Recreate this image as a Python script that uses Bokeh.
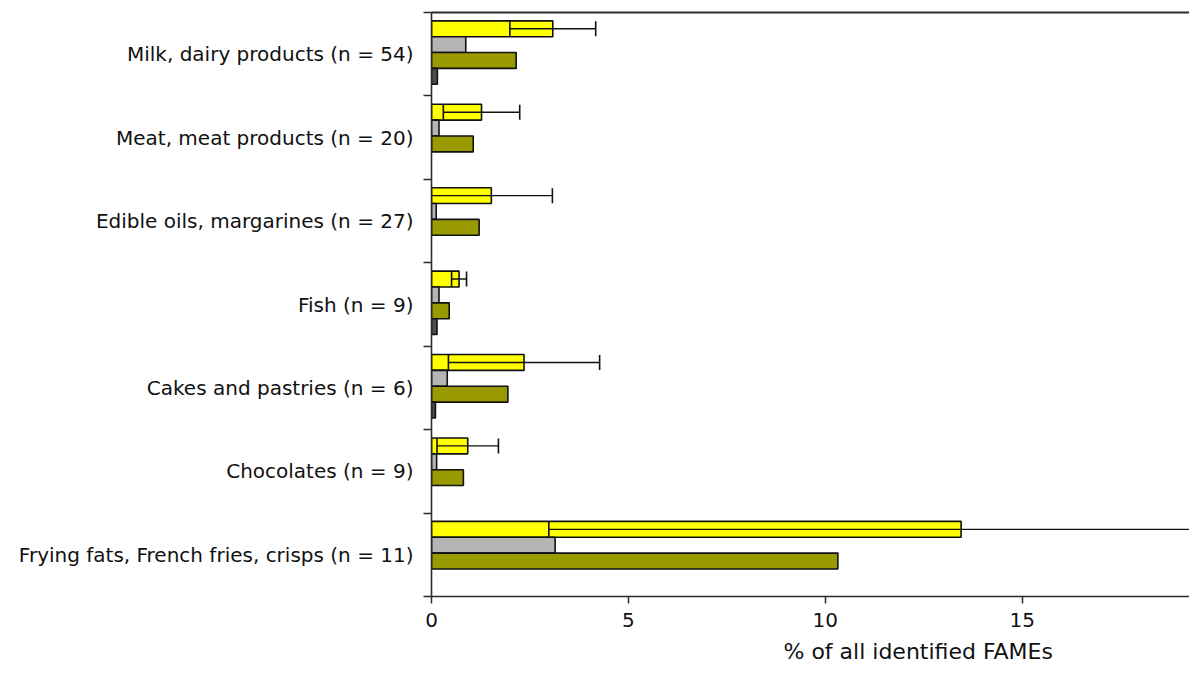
from bokeh.plotting import figure
from bokeh.models import (ColumnDataSource, FixedTicker, LinearAxis, Range1d,
                          TeeHead, Title, Whisker)
from bokeh.embed import file_html
from bokeh.resources import INLINE

# Food groups (top to bottom)
categories = [
    "Milk, dairy products (n = 54)",
    "Meat, meat products (n = 20)",
    "Edible oils, margarines (n = 27)",
    "Fish (n = 9)",
    "Cakes and pastries (n = 6)",
    "Chocolates (n = 9)",
    "Frying fats, French fries, crisps (n = 11)",
]

# % of all identified FAMEs
series1_mean = [3.08, 1.27, 1.52, 0.70, 2.35, 0.92, 13.45]
series1_sd = [1.09, 0.97, 1.55, 0.19, 1.92, 0.78, 10.47]
series2 = [0.87, 0.19, 0.12, 0.19, 0.40, 0.13, 3.14]
series3 = [2.15, 1.06, 1.21, 0.45, 1.94, 0.81, 10.32]
series4 = [0.15, 0.0, 0.0, 0.14, 0.10, 0.0, 0.0]

x_ticks = [0, 5, 10, 15]
x_label = "% of all identified FAMEs"

FONT = "DejaVu Sans"
AXIS_COLOR = "#2b2b2b"
TEXT_COLOR = "#111111"

n = len(categories)
centers = [n - i - 0.5 for i in range(n)]
bar_h = 0.19
group_shift = 0.02
offsets = [group_shift + k * bar_h for k in (1.5, 0.5, -0.5, -1.5)]

p = figure(width=1189, height=674, output_backend="svg", toolbar_location=None,
           x_range=Range1d(0, 19.25), y_range=Range1d(0, n),
           min_border_left=431, min_border_right=0, min_border_top=12,
           min_border_bottom=78)
p.outline_line_color = None
p.xgrid.visible = False
p.ygrid.visible = False

series = [
    (series1_mean, "#ffff00", offsets[0]),
    (series2, "#b5b5b5", offsets[1]),
    (series3, "#999900", offsets[2]),
    (series4, "#4d4d4d", offsets[3]),
]
for vals, color, off in series:
    ys = [c + off for c, v in zip(centers, vals) if v > 0]
    vs = [v for v in vals if v > 0]
    src = ColumnDataSource(dict(y=ys, v=vs))
    p.hbar(y="y", left=0, right="v", height=bar_h, source=src,
           fill_color=color, line_color=TEXT_COLOR, line_width=1.6)

# mean ± SD whiskers on the first series, drawn over the bars
err_src = ColumnDataSource(dict(
    base=[c + offsets[0] for c in centers],
    lower=[m - s for m, s in zip(series1_mean, series1_sd)],
    upper=[m + s for m, s in zip(series1_mean, series1_sd)],
))
p.add_layout(Whisker(source=err_src, base="base", lower="lower", upper="upper",
                     dimension="width", level="annotation",
                     line_color=TEXT_COLOR, line_width=1.4,
                     upper_head=TeeHead(size=15, line_color=TEXT_COLOR, line_width=1.6),
                     lower_head=TeeHead(size=15, line_color=TEXT_COLOR, line_width=1.6)))

# category axis: labels centred in each band, ticks on the band edges
yax = p.yaxis[0]
yax.ticker = FixedTicker(ticks=centers, minor_ticks=list(range(0, n + 1)))
yax.major_label_overrides = {float(c): name for c, name in zip(centers, categories)}
yax.major_tick_in = 0
yax.major_tick_out = 0
yax.minor_tick_in = 0
yax.minor_tick_out = 8
yax.minor_tick_line_color = AXIS_COLOR
yax.minor_tick_line_width = 1.5
yax.major_label_standoff = 10
yax.major_label_text_font_size = "20px"

xax = p.xaxis[0]
xax.ticker = FixedTicker(ticks=x_ticks, minor_ticks=[])
xax.major_tick_in = 0
xax.major_tick_out = 7
xax.major_tick_line_width = 1.5
xax.major_tick_line_color = AXIS_COLOR
xax.major_label_standoff = 9
xax.major_label_text_font_size = "20px"

for ax in (xax, yax):
    ax.axis_line_color = AXIS_COLOR
    ax.axis_line_width = 1.6
    ax.major_label_text_font = FONT
    ax.major_label_text_color = TEXT_COLOR

# frame line along the top
top = LinearAxis(ticker=FixedTicker(ticks=[], minor_ticks=[]),
                 axis_line_color=AXIS_COLOR, axis_line_width=2,
                 major_tick_out=0, major_tick_in=0, minor_tick_out=0, minor_tick_in=0,
                 major_label_text_font_size="0px")
p.add_layout(top, "above")

p.add_layout(Title(text=x_label, align="left", offset=352, standoff=14,
                   text_font=FONT, text_font_size="22px",
                   text_font_style="normal", text_color=TEXT_COLOR), "below")

open("out.html", "w").write(file_html(p, INLINE))
